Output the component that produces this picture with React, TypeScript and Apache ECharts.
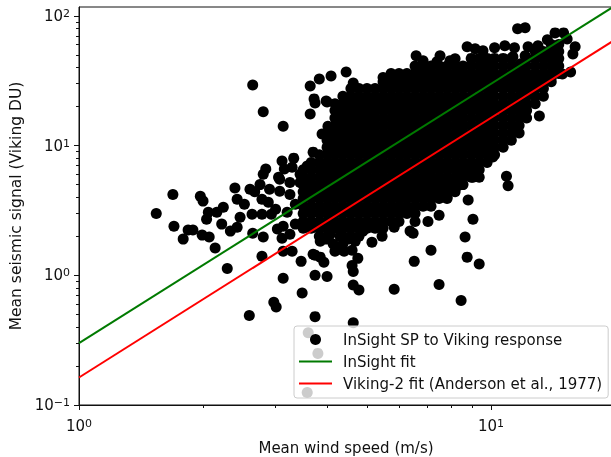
import React, { useEffect, useRef } from "react";
import * as echarts from "echarts";

// Separate readable points (mean wind speed m/s, mean signal DU)
const scatterPoints: [number, number][] = [
  [1.54,3.0],[1.69,4.2],[1.70,2.39],[1.84,2.23],[1.89,2.23],[1.79,1.9],[1.99,2.04],[2.07,1.97],[2.14,1.62],[2.29,1.13],
  [2.78,1.4],[3.13,0.95],[3.48,0.73],[2.97,0.62],[3.01,0.57],[2.59,0.49],[3.74,1.0],[3.74,0.48],[4.63,0.43],[3.46,1.28],
  [3.13,1.53],[3.29,1.53],[3.74,1.43],[2.64,2.11],[2.8,1.97],[3.11,1.93],[2.39,4.7],[1.97,4.07],[2.0,3.73],[2.06,3.06],
  [2.04,2.7],[2.16,3.06],[2.24,3.35],[2.22,2.48],[2.42,3.86],[2.33,2.19],[2.42,2.35],[2.46,2.8],[2.63,2.96],[2.67,4.4],
  [2.8,6.0],[2.88,3.66],[3.07,4.45],[3.25,5.2],[3.13,2.39],[3.03,2.27],[3.2,3.06],[2.84,6.6],[3.11,7.6],[3.32,8.0],
  [3.29,6.8],[3.07,5.5],[3.44,5.2],[3.58,6.95],[3.7,8.9],[3.89,12.3],[4.02,14.1],[4.0,21.7],[2.64,29.3],[2.8,18.2],
  [3.13,14.1],[3.64,28.8],[3.83,32.6],[4.09,34.4],[4.45,36.9],[4.63,30.4],[3.72,22.9],[3.74,21.3],[3.64,17.5],[3.98,22.1],
  [2.78,3.86],[2.9,4.6],[3.0,3.23],[2.75,5.0],[3.05,5.7],[3.15,6.6],[3.25,4.2],[3.35,3.53],[3.35,2.48],[3.25,2.07],
  [2.93,2.96],[2.78,2.96],[2.52,3.53],[2.6,4.6],[3.44,6.0],
  [8.8,3.8],[9.04,2.7],[8.65,1.97],[8.75,1.38],[9.36,1.22],[7.15,1.56],[6.51,1.28],[7.48,0.85],[8.46,0.64],[5.82,0.78],
  [4.78,0.77],[4.63,0.84],[4.0,0.98],[3.7,1.45],[3.85,1.38],[3.93,1.26],[3.85,1.83],[4.6,1.19],[4.63,1.07],[4.75,1.35],
  [4.6,1.56],[4.68,1.83],[5.14,1.8],[5.44,2.0],[5.82,2.35],[6.36,2.19],[6.47,2.11],[6.54,2.6],[7.03,2.6],[7.48,2.9],
  [4.28,1.59],[4.14,1.74],[4.37,1.74],[4.3,2.0],[4.07,2.07],[4.89,2.19],[9.04,5.7],[7.82,4.0],[8.31,4.9],[8.55,6.0],
  [13.1,16.9],[10.9,5.8],[11,4.9],[10.1,8.15],[11.6,13.2],[15.6,36.9],[14.9,35.6],
  [4.18,1.53],[4.4,1.53],[4.5,1.9],[3.98,1.9],
  [11.6,79.4],[12.1,80.8],[6.58,49.2],[6.84,45.1],[7.52,49.2],[7.39,44.3],[8.75,57.7],[9.15,55.8],[9.56,53.9],[10.2,56.8],
  [10.8,58.7],[11.4,56.8],[7.95,45.1],[8.18,46.7],[11.3,48.3],[14.3,73.9],[15,73.9],[13.7,65.3],[15.3,66.4],[16,57.7],
  [15.8,50.9],[14.5,49.2],[13,58.7],[12.3,57.7],[12.1,49.2],[11.8,42.7],
  [3.6,0.36],[3.8,0.25],[3.58,0.125],
];

// The saturated cloud cannot be read point by point: estimated wind speeds and signals per column
const cloudWinds = [3.5,3.66,3.83,4.0,4.18,4.37,4.57,4.78,5.0,5.23,5.47,5.72,5.98,6.25,6.54,6.84,7.15,7.48,7.82,8.18,8.55,8.95,9.36,9.78,10.2,10.7,11.2,11.7,12.2,12.8,13.4,14.0,14.6];
const cloudSignals: number[][] = [
  [2.3,2.6,3,3.4,3.9,4.4,5,5.7,6.5],
  [2.3,2.6,3,3.4,3.9,4.4,5,5.7,6.5,7.4],
  [2,2.3,2.6,3,3.4,3.9,4.4,5,5.7,6.5,7.4,8.5],
  [2,2.3,2.6,3,3.4,3.9,4.4,5,5.7,6.5,7.4,8.5,9.7,11,12.5],
  [2.3,2.6,3,3.4,3.9,4.4,5,5.7,6.5,7.4,8.5,9.7,11,12.5,14.3,16.3,18.6,21],
  [2,2.3,2.6,3,3.4,3.9,4.4,5,5.7,6.5,7.4,8.5,9.7,11,12.5,14.3,16.3,18.6,21,24],
  [2,2.3,2.6,3,3.4,3.9,4.4,5,5.7,6.5,7.4,8.5,9.7,11,12.5,14.3,16.3,18.6,21,24,27.5],
  [2,2.3,2.6,3,3.4,3.9,4.4,5,5.7,6.5,7.4,8.5,9.7,11,12.5,14.3,16.3,18.6,21,24,27.5],
  [2.3,2.6,3,3.4,3.9,4.4,5,5.7,6.5,7.4,8.5,9.7,11,12.5,14.3,16.3,18.6,21,24,27.5],
  [2.3,2.6,3,3.4,3.9,4.4,5,5.7,6.5,7.4,8.5,9.7,11,12.5,14.3,16.3,18.6,21,24,27.5],
  [2.3,2.6,3,3.4,3.9,4.4,5,5.7,6.5,7.4,8.5,9.7,11,12.5,14.3,16.3,18.6,21,24,27.5,31,33.5],
  [2.6,3,3.4,3.9,4.4,5,5.7,6.5,7.4,8.5,9.7,11,12.5,14.3,16.3,18.6,21,24,27.5,31,33.5,36],
  [2.6,3,3.4,3.9,4.4,5,5.7,6.5,7.4,8.5,9.7,11,12.5,14.3,16.3,18.6,21,24,27.5,31,33.5,36],
  [3,3.4,3.9,4.4,5,5.7,6.5,7.4,8.5,9.7,11,12.5,14.3,16.3,18.6,21,24,27.5,31,33.5,36],
  [3,3.4,3.9,4.4,5,5.7,6.5,7.4,8.5,9.7,11,12.5,14.3,16.3,18.6,21,24,27.5,31,33.5,36,41],
  [3.4,3.9,4.4,5,5.7,6.5,7.4,8.5,9.7,11,12.5,14.3,16.3,18.6,21,24,27.5,31,33.5,36,41],
  [3.4,3.9,4.4,5,5.7,6.5,7.4,8.5,9.7,11,12.5,14.3,16.3,18.6,21,24,27.5,31,33.5,36,41],
  [3.9,4.4,5,5.7,6.5,7.4,8.5,9.7,11,12.5,14.3,16.3,18.6,21,24,27.5,31,33.5,36,41],
  [3.9,4.4,5,5.7,6.5,7.4,8.5,9.7,11,12.5,14.3,16.3,18.6,21,24,27.5,31,33.5,36,41],
  [4.4,5,5.7,6.5,7.4,8.5,9.7,11,12.5,14.3,16.3,18.6,21,24,27.5,31,33.5,36,41],
  [5,5.7,6.5,7.4,8.5,9.7,11,12.5,14.3,16.3,18.6,21,24,27.5,31,33.5,36,41],
  [5.7,6.5,7.4,8.5,9.7,11,12.5,14.3,16.3,18.6,21,24,27.5,31,33.5,36,41,47],
  [5.7,6.5,7.4,8.5,9.7,11,12.5,14.3,16.3,18.6,21,24,27.5,31,33.5,36,41,47],
  [7.4,8.5,9.7,11,12.5,14.3,16.3,18.6,21,24,27.5,31,33.5,36,41,47],
  [8.5,9.7,11,12.5,14.3,16.3,18.6,21,24,27.5,31,33.5,36,41,47],
  [9.7,11,12.5,14.3,16.3,18.6,21,24,27.5,31,33.5,36,41,47],
  [11,12.5,14.3,16.3,18.6,21,24,27.5,31,33.5,36,41,47],
  [12.5,14.3,16.3,18.6,21,24,27.5,31,33.5,36,41],
  [16.3,18.6,21,24,27.5,31,33.5,36,41,47],
  [21,24,27.5,31,33.5,36,41,47,53],
  [24,27.5,31,33.5,36,41,47,53],
  [31,33.5,36,41,47,53,60],
  [36,41,47,53,60],
];

const insightFit: [number, number][] = [[1, 0.3], [19.77, 117]];
const viking2Fit: [number, number][] = [[1, 0.163], [19.77, 64]];

const seriesNames = ["InSight SP to Viking response", "InSight fit", "Viking-2 fit (Anderson et al., 1977)"];
const xTitle = "Mean wind speed (m/s)";
const yTitle = "Mean seismic signal (Viking DU)";
const xTicks = [1, 10];
const yTicks = [0.1, 1, 10, 100];

const FONT = "DejaVu Sans";
const powerLabel = (v: number) => `{b|10}{s|${Math.round(Math.log10(v)).toString().replace("-", "\u2212")}}`;
const labelRich = {
  b: { fontFamily: FONT, fontSize: 15, color: "#111" },
  s: { fontFamily: FONT, fontSize: 11, color: "#111", verticalAlign: "top", padding: [0, 0, 5, 0] },
};

export default function App() {
  const ref = useRef<HTMLDivElement>(null);
  useEffect(() => {
    const chart = echarts.init(ref.current!, undefined, { renderer: "svg" });
    const cloud = cloudWinds.flatMap((w, i) => cloudSignals[i].map((s) => [w, s]));
    const axisCommon = {
      type: "log" as const,
      logBase: 10,
      splitLine: { show: false },
      axisLine: { show: true, onZero: false, lineStyle: { color: "#111", width: 1 } },
      minorTick: { show: true, splitNumber: 9, length: 3, lineStyle: { color: "#111", width: 1 } },
      minorSplitLine: { show: false },
      nameLocation: "middle" as const,
    };
    chart.setOption({
      animation: false,
      backgroundColor: "#fff",
      grid: { show: true, left: 79, top: 7, right: -2, bottom: 52, outerBoundsMode: "none", containLabel: false, borderColor: "#111", borderWidth: 1, backgroundColor: "transparent" },
      xAxis: {
        ...axisCommon,
        min: 1,
        max: 19.77,
        name: xTitle,
        nameGap: 35,
        nameTextStyle: { fontFamily: FONT, fontSize: 15, color: "#111" },
        axisTick: { show: true, length: 5, lineStyle: { color: "#111", width: 1 }, customValues: xTicks },
        axisLabel: { formatter: powerLabel, rich: labelRich, margin: 13, customValues: xTicks },
      },
      yAxis: {
        ...axisCommon,
        min: 0.1,
        max: 117,
        name: yTitle,
        nameGap: 52,
        nameTextStyle: { fontFamily: FONT, fontSize: 15.5, color: "#111" },
        axisTick: { show: true, length: 5, lineStyle: { color: "#111", width: 1 }, customValues: yTicks },
        axisLabel: { formatter: powerLabel, rich: labelRich, margin: 9, customValues: yTicks },
      },
      legend: {
        show: true,
        left: 294,
        top: 326,
        orient: "vertical",
        padding: [6, 6, 7, 4],
        itemWidth: 33,
        itemHeight: 11,
        itemGap: 7,
        backgroundColor: "rgba(255,255,255,0.8)",
        borderColor: "#ccc",
        borderWidth: 1,
        borderRadius: 3,
        textStyle: { fontFamily: FONT, fontSize: 15, color: "#111", padding: [0, 0, 0, 6] },
        data: [
          { name: seriesNames[0] },
          { name: seriesNames[1], itemStyle: { opacity: 0 } },
          { name: seriesNames[2], itemStyle: { opacity: 0 } },
        ],
      },
      series: [
        {
          name: seriesNames[0],
          type: "scatter",
          symbol: "circle",
          symbolSize: 11,
          itemStyle: { color: "#000", opacity: 1 },
          data: [...cloud, ...scatterPoints],
          z: 2,
        },
        {
          name: seriesNames[1],
          type: "line",
          data: insightFit,
          showSymbol: false,
          symbol: "none",
          lineStyle: { color: "#007a00", width: 2 },
          itemStyle: { color: "#007a00" },
          z: 3,
        },
        {
          name: seriesNames[2],
          type: "line",
          data: viking2Fit,
          showSymbol: false,
          symbol: "none",
          lineStyle: { color: "#ff0000", width: 2 },
          itemStyle: { color: "#ff0000" },
          z: 4,
        },
      ],
    });
    return () => chart.dispose();
  }, []);
  return (
    <div
      ref={ref}
      style={{ position: "fixed", left: 0, top: 0, width: 611, height: 457, overflow: "hidden", filter: "blur(0.35px)" }}
    />
  );
}
